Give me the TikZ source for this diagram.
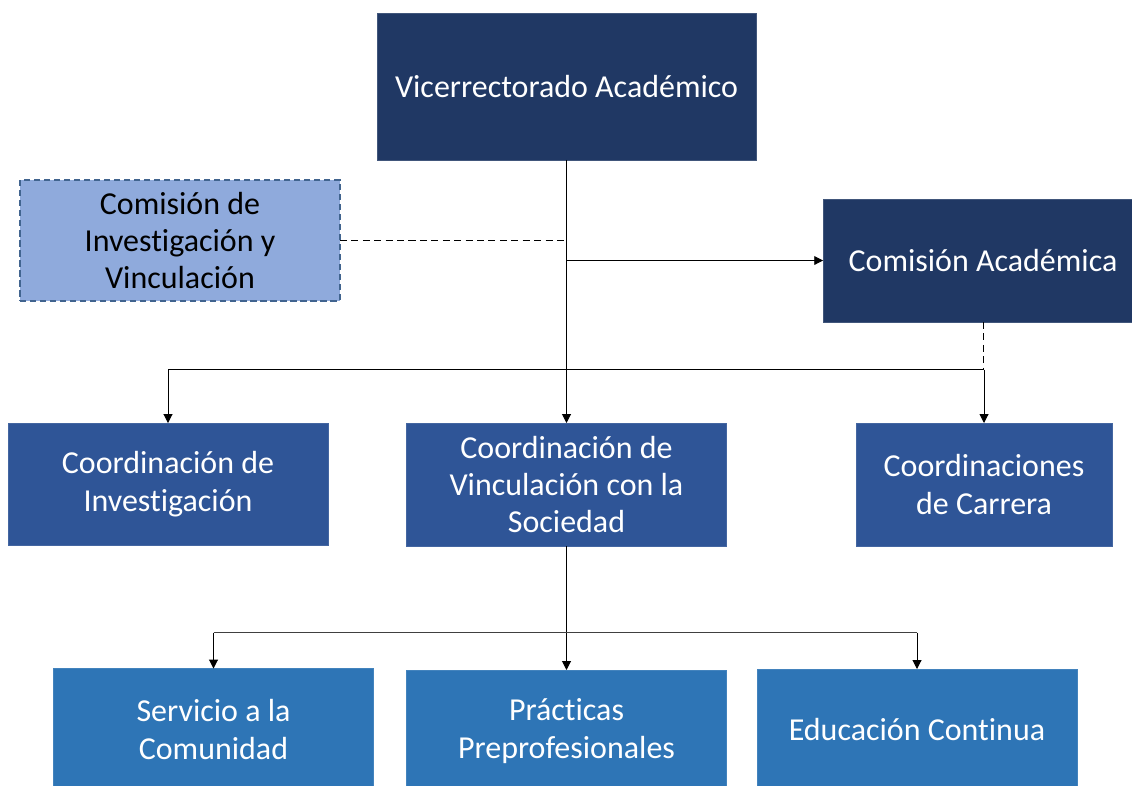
\documentclass[tikz,border=0pt]{standalone}
\usepackage{fontspec}
\setmainfont{Carlito}[Ligatures=NoCommon]
\usetikzlibrary{arrows.meta,calc}
\definecolor{navy}{HTML}{203864}
\definecolor{midblue}{HTML}{2F5597}
\definecolor{lowblue}{HTML}{2E75B6}
\definecolor{lightblue}{HTML}{8FAADC}
\definecolor{dashborder}{HTML}{41648F}
\tikzset{
  box/.style={rectangle, inner sep=0pt, outer sep=0pt, align=center,
    font=\fontsize{18.2}{21.3}\selectfont, minimum height=2.44cm, minimum width=6.4cm},
  topbox/.style={box, fill=navy, draw=navy!85!white, text=white},
  midbox/.style={box, fill=midblue, draw=midblue!90!white, text=white},
  lowbox/.style={box, fill=lowblue, draw=lowblue!90!white, text=white},
  lightbox/.style={box, fill=lightblue, draw=dashborder, dash pattern=on 3.5pt off 2.2pt, line width=0.9pt, text=black},
  conn/.style={draw=black, line width=0.55pt},
  arr/.style={conn, -{Triangle[width=5pt,length=5pt]}},
  dashconn/.style={conn, dash pattern=on 4pt off 2.5pt},
}
\begin{document}
\begin{tikzpicture}[x=0.02cm, y=-0.02cm]
\useasboundingbox (0,0) rectangle (1132,785);
\clip (0,0) rectangle (1132,785);
\fill[white] (0,0) rectangle (1132,785);
% nodes
\node[topbox, minimum width=7.58cm, minimum height=2.94cm] (vice) at (566.5,86.5) {Vicerrectorado Académico};
\node[lightbox, minimum height=2.42cm] (cominv) at (180,240.5) {Comisión de\\Investigación y\\Vinculación};
\node[topbox, minimum height=2.46cm] (comacad) at (983,260.5) {Comisión Académica};
\node[midbox] (coordinv) at (168,484) {Coordinación de\\Investigación};
\node[midbox, minimum height=2.46cm] (coordvin) at (566.5,484.5) {Coordinación de\\Vinculación con la\\Sociedad};
\node[midbox, minimum width=5.12cm, minimum height=2.46cm] (coordcar) at (984,484.5) {Coordinaciones\\de Carrera};
\node[lowbox] (serv) at (213.5,729.5) {Servicio a la\\Comunidad};
\node[lowbox] (prac) at (566.5,731) {Prácticas\\Preprofesionales};
\node[lowbox] (educ) at (917,730) {Educación Continua};
% junction coordinates
\coordinate (h1) at (983,369.5);
\coordinate (h2) at (566,632.5);
% connectors
\draw[arr] (vice.south) -- (vice.south |- coordvin.north);
\draw[dashconn] (cominv.east) -- (cominv.east -| vice.south);
\draw[arr] (vice.south |- comacad.west) -- (comacad.west);
\draw[dashconn] (comacad.south) -- (comacad.south |- h1);
\draw[conn] (coordinv.north |- h1) -- (coordcar.north |- h1);
\draw[arr] (coordinv.north |- h1) -- (coordinv.north);
\draw[arr] (coordcar.north |- h1) -- (coordcar.north);
\draw[arr] (coordvin.south) -- (coordvin.south |- prac.north);
\draw[conn, draw=black!75] (serv.north |- h2) -- (educ.north |- h2);
\draw[arr] (serv.north |- h2) -- (serv.north);
\draw[arr] (educ.north |- h2) -- (educ.north);
\end{tikzpicture}
\end{document}
